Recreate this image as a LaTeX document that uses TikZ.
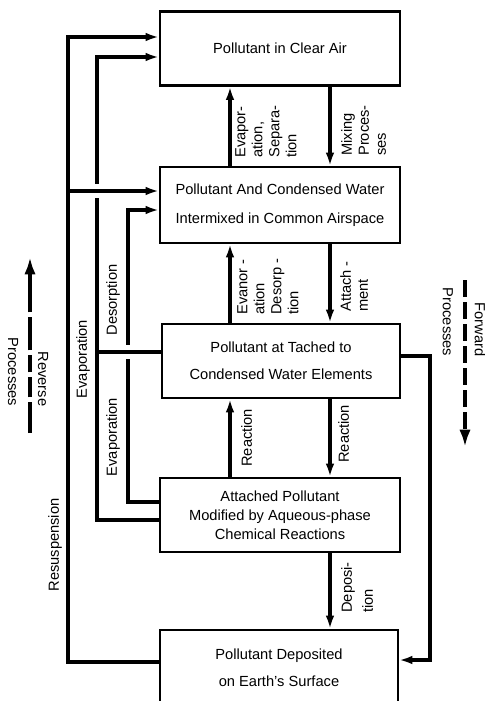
\documentclass[tikz,border=0pt]{standalone}
\usepackage{fontspec}
\setmainfont{Liberation Sans}
\usetikzlibrary{arrows.meta}

\begin{document}
\begin{tikzpicture}[
  x=0.75pt,y=-0.75pt,
  box/.style={draw,line width=1.6pt,minimum width=180pt,minimum height=55.5pt,
              inner sep=0pt,align=center,font=\fontsize{11pt}{#1}\selectfont},
  box/.default=20.25pt,
  arrow/.style={-{Latex[length=10pt,width=6.5pt]},line width=2.4pt},
  link/.style={line width=2.4pt},
  hop/.style 2 args={preaction={draw=white,line width=10pt,-,shorten <=#1,shorten >=#2}},
  tag/.style={rotate=90,anchor=north west,align=left,inner sep=0pt,
              font=\fontsize{11pt}{12.75pt}\selectfont},
  side/.style={rotate=-90,align=right,inner sep=0pt,font=\fontsize{11pt}{#1}\selectfont},
  guide/.style={-{Latex[length=13pt,width=8.5pt]},line width=3pt}
]
\useasboundingbox (0,0) rectangle (485,701);

% compartments
\node[box] (clear) at (280,48.5) {Pollutant in Clear Air};
\node[box=21.75pt,minimum height=57pt] (mixed) at (280,205)
  {Pollutant And Condensed Water\\Intermixed in Common Airspace};
\node[box,minimum width=178.5pt] (attached) at (281,361)
  {Pollutant at Tached to\\Condensed Water Elements};
\node[box=14.25pt] (modified) at (280,515)
  {Attached Pollutant\\Modified by Aqueous-phase\\Chemical Reactions};
\node[box,minimum width=178.5pt,minimum height=57pt] (deposited) at (279,668)
  {Pollutant Deposited\\on Earth's Surface};

% forward processes (right column)
\draw[arrow] (clear.south -| 330,0) -- (mixed.north -| 330,0);
\draw[arrow] (mixed.south -| 330,0) -- (attached.north -| 330,0);
\draw[arrow] (attached.south -| 330,0) -- (modified.north -| 330,0);
\draw[arrow] (modified.south -| 330,0) -- (deposited.north -| 330,0);
% reverse processes (left column)
\draw[arrow] (mixed.north -| 230,0) -- (clear.south -| 230,0);
\draw[arrow] (attached.north -| 230,0) -- (mixed.south -| 230,0);
\draw[arrow] (modified.north -| 230,0) -- (attached.south -| 230,0);

% loops on the left
\draw[arrow] (deposited.west |- 0,662) -| (68,37) -- (clear.west |- 0,37);
\draw[arrow] (modified.west |- 0,520) -| (97,57) -- (clear.west |- 0,57);
\draw[arrow] (modified.west |- 0,502) -| (128,210) -- (mixed.west |- 0,210);
\draw[arrow,hop={17pt}{43pt}] (68,191) -- (mixed.west |- 0,191);
\draw[link,hop={21pt}{18.5pt}] (attached.west |- 0,352) -- (97,352);
% loop on the right
\draw[arrow] (attached.east |- 0,356) -| (430,660) -- (deposited.east |- 0,660);

% process labels
\node[tag] (lsep) at (235,158) {Evapor-\\ation,\\Separa-\\tion};
\node[tag] (lmix) at (341,156) {Mixing\\Proces-\\ses};
\node[tag] (ldes) at (237,315) {Evanor -\\ation\\Desorp -\\tion};
\node[tag] (latt) at (340,312) {Attach -\\ment};
\node[tag] (lreu) at (241,467) {Reaction};
\node[tag] (lred) at (338,463) {Reaction};
\node[tag] (ldep) at (341,613) {Deposi-\\[3pt]tion};
\node[tag,anchor=center] (ldso) at (113,300) {Desorption};
\node[tag,anchor=center] (levu) at (83,359) {Evaporation};
\node[tag,anchor=center] (levl) at (113,437) {Evaporation};
\node[tag,anchor=center] (lres) at (55,545) {Resuspension};

% legend arrows
\coordinate (revtail) at (30,433); \coordinate (revhead) at (30,257);
\draw[guide,dash pattern=on 23pt off 3.75pt on 15pt off 3.75pt on 12.75pt off 3.75pt on 24.75pt off 3.75pt on 60pt off 0pt]
  (revtail) -- (revhead);
\node[side=22.5pt] (rev) at (28,372) {Reverse\\Processes};
\coordinate (fwdtail) at (465,280); \coordinate (fwdhead) at (465,447);
\draw[guide,dash pattern=on 13pt off 3.5pt] (fwdtail) -- (fwdhead);
\node[side=24pt] (fwd) at (464,322) {Forward\\Processes};
\end{tikzpicture}
\end{document}
